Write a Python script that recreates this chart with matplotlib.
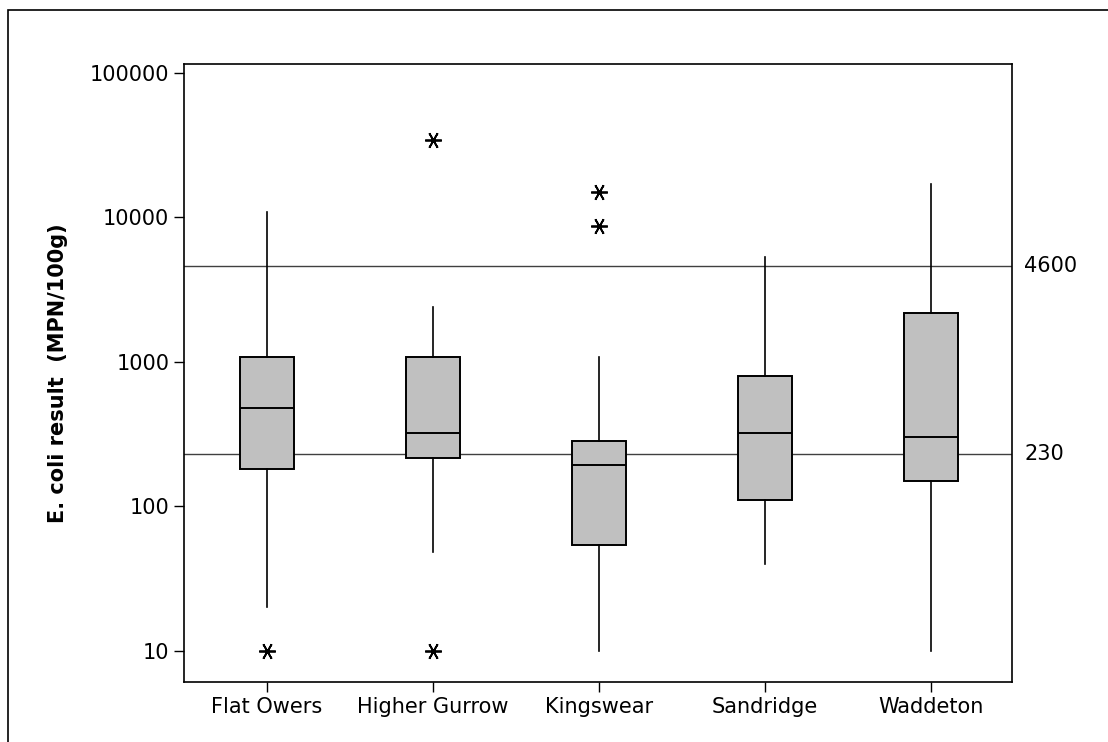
#!/usr/bin/python3

import numpy as np
import matplotlib.pyplot as plt
from matplotlib.patches import Rectangle
import matplotlib.ticker as mticker

# data
sites = ['Flat Owers', 'Higher Gurrow', 'Kingswear', 'Sandridge', 'Waddeton']
whisker_low = [20, 48, 10, 40, 10]
q1 = [180, 217, 54, 110, 150]
median = [480, 324, 193, 324, 304]
q3 = [1080, 1080, 284, 795, 2170]
whisker_high = [10800, 2410, 1080, 5350, 16900]
outliers = [[10], [10, 34000], [8700, 15000], [], []]
limits = [4600, 230]

yticks = [10, 100, 1000, 10000, 100000]


def main():
    plt.rcParams['font.family'] = 'DejaVu Sans'
    fig = plt.figure(figsize=(11.08, 7.42), dpi=100)
    ax = fig.add_axes([0.166, 0.0809, 0.9134 - 0.166, 0.9137 - 0.0809])

    stats = []
    for i in range(len(sites)):
        stats.append({'label': sites[i], 'whislo': whisker_low[i], 'q1': q1[i],
                      'med': median[i], 'q3': q3[i], 'whishi': whisker_high[i],
                      'fliers': outliers[i]})

    # reference lines first, boxes drawn on top of them
    for lim in limits:
        ax.axhline(lim, color='#404040', lw=1.0, zorder=1)
        ax.text(1.015, lim, str(lim), transform=ax.get_yaxis_transform(),
                va='center', ha='left', fontsize=15)

    ax.bxp(stats, positions=np.arange(1, len(sites) + 1), widths=0.325,
           patch_artist=True, showcaps=False,
           boxprops=dict(facecolor='#c0c0c0', edgecolor='black', lw=1.4),
           medianprops=dict(color='black', lw=1.4),
           whiskerprops=dict(color='black', lw=1.2),
           flierprops=dict(marker=(6, 2, 90), markersize=12, markeredgecolor='black',
                           markeredgewidth=1.3, linestyle='none'),
           zorder=2)

    ax.set_yscale('log')
    ax.set_ylim(6.1, 114800)
    ax.set_xlim(0.5, 5.49)
    ax.yaxis.set_major_locator(mticker.FixedLocator(yticks))
    ax.yaxis.set_major_formatter(mticker.FixedFormatter([str(t) for t in yticks]))
    ax.yaxis.set_minor_locator(mticker.NullLocator())
    ax.set_xticks(np.arange(1, len(sites) + 1))
    ax.set_xticklabels(sites)
    ax.tick_params(axis='both', direction='out', length=7, width=1.0,
                   labelsize=15, colors='black')
    for sp in ax.spines.values():
        sp.set_linewidth(1.2)

    ax.set_ylabel('E. coli result  (MPN/100g)', fontsize=15, fontweight='bold',
                  labelpad=16)

    # outer frame of the picture (left and top edges visible)
    fig.patches.append(Rectangle((8 / 1108, -0.1), 1.2, 0.1 + 732 / 742,
                                 transform=fig.transFigure, fill=False,
                                 edgecolor='black', lw=1.2, clip_on=False))

    plt.savefig('out.png', dpi=100)


if (__name__ == '__main__'):
    main()
